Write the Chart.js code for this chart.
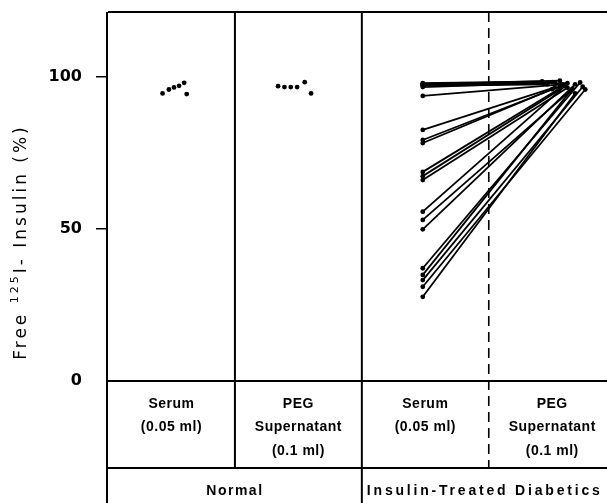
<!DOCTYPE html>
<html><head><meta charset="utf-8">
<script src="https://cdn.jsdelivr.net/npm/chart.js@4"></script>
<style>html,body{margin:0;padding:0;background:#fff;overflow:hidden}</style>
</head><body>
<canvas id="c" width="607" height="503"></canvas>
<script>
// ---- data ----
const yTicks = [0, 50, 100];
const columnLabels = [["Serum","(0.05 ml)"],["PEG","Supernatant","(0.1 ml)"],["Serum","(0.05 ml)"],["PEG","Supernatant","(0.1 ml)"]];
const groupLabels = ["Normal","Insulin-Treated Diabetics"];
const normalSerumX = [0.43,0.48,0.52,0.56,0.60,0.62];
const normalSerumY = [94.6,95.9,96.6,97.1,98.1,94.4];
const normalPegX = [1.34,1.39,1.44,1.49,1.55,1.60];
const normalPegY = [97.0,96.7,96.7,96.7,98.3,94.6];
const diabSerumX = 2.48;
const diabSerumY = [98.0,97.8,97.6,97.4,97.1,96.7,93.8,82.6,79.3,78.3,68.8,67.4,66.1,55.7,53.0,49.9,37.1,34.9,33.2,31.0,27.7];
const diabPegX = [3.42,3.50,3.56,3.62,3.46,3.52,3.58,3.52,3.56,3.50,3.60,3.55,3.62,3.60,3.66,3.68,3.72,3.64,3.74,3.76,3.68];
const diabPegY = [98.6,98.3,98.8,98.0,97.6,98.2,97.6,96.6,96.9,96.0,97.3,95.6,96.5,97.0,96.1,97.6,98.2,95.2,96.8,95.9,94.6];

const pt = {pointRadius:2.4, pointBackgroundColor:'#000', pointBorderColor:'#000', pointBorderWidth:0};
const datasets = [
  Object.assign({data: normalSerumX.map((x,i)=>({x, y: normalSerumY[i]})), showLine:false}, pt),
  Object.assign({data: normalPegX.map((x,i)=>({x, y: normalPegY[i]})), showLine:false}, pt)
];
diabSerumY.forEach((s,i)=>{
  datasets.push(Object.assign({data:[{x:diabSerumX,y:s},{x:diabPegX[i],y:diabPegY[i]}], showLine:true, borderColor:'#000', borderWidth:1.8}, pt));
});

const frame = {
  id:'frame',
  afterDraw(chart){
    const {ctx, chartArea:a, scales:{x}} = chart;
    const L=a.left, T=a.top, B=a.bottom, R=chart.width, H=chart.height;
    const row1 = B + 87;
    const px = v => x.getPixelForValue(v);
    ctx.save();
    ctx.strokeStyle='#000'; ctx.lineWidth=2;
    const line=(x1,y1,x2,y2)=>{ctx.beginPath();ctx.moveTo(x1,y1);ctx.lineTo(x2,y2);ctx.stroke();};
    line(L,T,R,T); line(L-1,T,L-1,H); line(L,B,R,B); line(L,row1,R,row1);
    line(px(1),T,px(1),row1); line(px(2),T,px(2),H);
    ctx.setLineDash([10,6]); ctx.lineWidth=1.6;
    line(px(3),T,px(3),row1);
    ctx.setLineDash([]);
    // table text
    ctx.fillStyle='#000'; ctx.textAlign='center'; ctx.textBaseline='middle';
    ctx.font='bold 14px "Liberation Sans", Arial, sans-serif';
    ctx.letterSpacing='0.5px';
    columnLabels.forEach((lines,c)=>{
      lines.forEach((t,k)=>ctx.fillText(t, px(c+0.5), B+23+k*23.5));
    });
    ctx.letterSpacing='1.5px';
    ctx.fillText(groupLabels[0], (px(0)+px(2))/2, row1+23);
    ctx.textAlign='left'; ctx.letterSpacing='2.8px';
    ctx.fillText(groupLabels[1], px(2)+5, row1+23);
    // y title with superscript
    ctx.translate(22, 242); ctx.rotate(-Math.PI/2);
    ctx.textAlign='left'; ctx.textBaseline='middle'; ctx.letterSpacing='3px';
    const big='17px "DejaVu Sans", sans-serif', small='11px "DejaVu Sans", sans-serif';
    const parts=[["Free ",big,0],["125",small,-7],["I- Insulin (%)",big,0]];
    let w=0; parts.forEach(p=>{ctx.font=p[1]; w+=ctx.measureText(p[0]).width;});
    let cx=-w/2;
    parts.forEach(p=>{ctx.font=p[1]; ctx.fillText(p[0],cx,p[2]); cx+=ctx.measureText(p[0]).width;});
    ctx.restore();
  }
};

new Chart(document.getElementById('c'), {
  type:'scatter',
  data:{datasets},
  plugins:[frame],
  options:{
    responsive:false, animation:false,
    layout:{padding:{left:0, top:12, right:0, bottom:122}},
    plugins:{legend:{display:false}, tooltip:{enabled:false}},
    scales:{
      x:{type:'linear', min:0, max:3.9, display:false},
      y:{type:'linear', min:0, max:121.4,
        afterBuildTicks: s => { s.ticks = yTicks.map(v=>({value:v})); },
        afterFit: s => { s.width = 108; s.paddingTop = 0; s.paddingBottom = 0; },
        ticks:{color:'#000', padding:14, font:{family:'"DejaVu Sans", sans-serif', size:16, weight:'bold'}},
        grid:{drawOnChartArea:false, tickLength:12, lineWidth:1.5, color: c => (c.tick && c.tick.value===0) ? 'rgba(0,0,0,0)' : '#000'},
        border:{display:false}
      }
    }
  }
});
</script>
</body></html>
